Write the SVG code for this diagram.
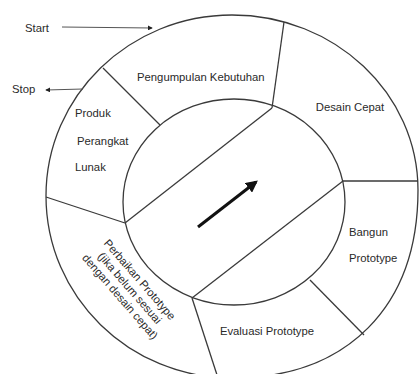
<svg xmlns="http://www.w3.org/2000/svg" width="419" height="374" viewBox="0 0 419 374">
  <defs>
    <style>
      .ring { fill: none; stroke: #3a3a3a; stroke-width: 1.3; }
      .div { stroke: #3a3a3a; stroke-width: 1.3; fill: none; }
      .lbl { font-family: "Liberation Sans", Arial, sans-serif; font-size: 11.3px; fill: #2a2a2a; }
      .thin { stroke: #555; stroke-width: 1; fill: none; }
    </style>
    <marker id="dot" viewBox="0 0 6 6" refX="5" refY="3" markerWidth="5" markerHeight="5" orient="auto">
      <path d="M0,0 L6,3 L0,6 z" fill="#222"/>
    </marker>
    <marker id="big" viewBox="0 0 10 10" refX="8" refY="5" markerWidth="4" markerHeight="4" orient="auto">
      <path d="M0,0 L10,5 L0,10 z" fill="#111"/>
    </marker>
  </defs>
  <rect width="419" height="374" fill="#fff"/>

  <g id="ring">
    <path class="ring" d="M232,15 C334.7,15 418,93.4 418,190 C418,307 347,378 232,378 C129.3,378 46,296.5 46,196 C46,96.1 129.3,15 232,15 Z"/>
    <ellipse class="ring" cx="234" cy="202" rx="111" ry="103"/>
    <line class="div" x1="103" y1="68" x2="160" y2="125"/>
    <line class="div" x1="284" y1="22" x2="272" y2="108"/>
    <line class="div" x1="272" y1="108" x2="125" y2="223"/>
    <line class="div" x1="46" y1="197" x2="125" y2="223"/>
    <line class="div" x1="343" y1="181" x2="418" y2="181"/>
    <line class="div" x1="343" y1="181" x2="192" y2="298"/>
    <line class="div" x1="310" y1="280" x2="364" y2="335"/>
    <line class="div" x1="192" y1="298" x2="218" y2="378"/>
  </g>

  <g id="pengumpulan">
    <text class="lbl" x="137" y="81">Pengumpulan Kebutuhan</text>
  </g>
  <g id="desain">
    <text class="lbl" x="350" y="111" text-anchor="middle">Desain Cepat</text>
  </g>
  <g id="bangun">
    <text class="lbl" x="349" y="236">Bangun</text>
    <text class="lbl" x="349" y="262">Prototype</text>
  </g>
  <g id="evaluasi">
    <text class="lbl" x="267" y="335" text-anchor="middle">Evaluasi Prototype</text>
  </g>
  <g id="perbaikan">
    <g transform="translate(130,288) rotate(49)">
      <text class="lbl" x="0" y="-9" text-anchor="middle">Perbaikan Prototype</text>
      <text class="lbl" x="0" y="4" text-anchor="middle">(jika belum sesuai</text>
      <text class="lbl" x="0" y="17" text-anchor="middle">dengan desain cepat)</text>
    </g>
  </g>
  <g id="produk">
    <text class="lbl" x="75" y="117">Produk</text>
    <text class="lbl" x="77" y="145">Perangkat</text>
    <text class="lbl" x="75" y="171">Lunak</text>
  </g>
  <g id="start">
    <text class="lbl" x="25" y="32">Start</text>
  </g>
  <g id="stop">
    <text class="lbl" x="12" y="93">Stop</text>
  </g>

  <g id="connectors">
    <line class="thin" x1="62" y1="27" x2="152" y2="28" marker-end="url(#dot)"/>
    <line class="thin" x1="83" y1="89" x2="46" y2="90" marker-end="url(#dot)"/>
    <line x1="198" y1="227" x2="256" y2="182" stroke="#111" stroke-width="3" marker-end="url(#big)"/>
  </g>
</svg>
